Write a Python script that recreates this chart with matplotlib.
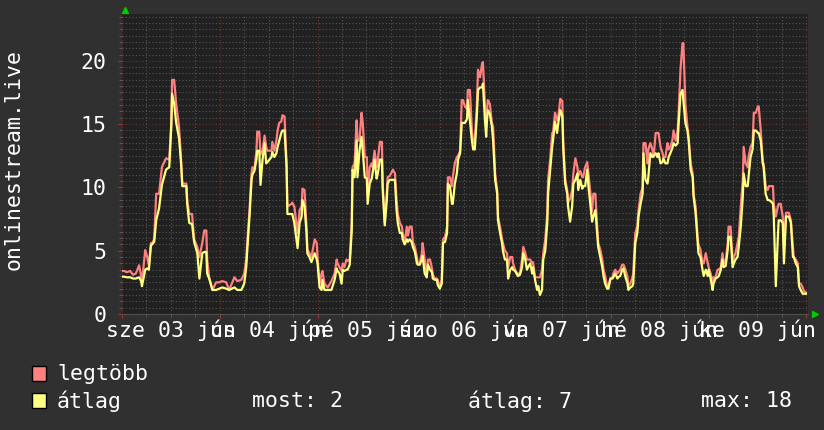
import numpy as np
import matplotlib
matplotlib.use("Agg")
import matplotlib.pyplot as plt
from matplotlib.patches import Rectangle
from matplotlib.lines import Line2D
from matplotlib.transforms import blended_transform_factory

# Idő (óra, jún 03 00:00-tól), legtöbb és átlag néző
hours = [
    0.0, 0.5, 1.2, 2.0, 2.7, 3.4, 4.2, 4.7, 4.9, 5.7,
    6.2, 6.6, 7.1, 7.4, 7.9, 8.4, 9.1, 9.8, 10.8, 11.6,
    12.1, 12.3, 12.8, 13.3, 14.0, 14.5, 14.8, 15.8, 16.0, 16.5,
    17.2, 17.7, 18.5, 19.0, 19.7, 20.2, 20.7, 20.9, 21.4, 22.2,
    23.1, 23.9, 24.6, 25.6, 26.3, 27.6, 28.3,
    29.3, 30.0, 30.5, 30.8, 31.3, 31.8, 32.0, 32.5, 33.0, 33.2,
    33.7, 34.0, 34.5, 35.0, 35.4, 35.7, 36.7, 36.9, 37.4, 37.9,
    38.2, 38.6, 39.1, 39.4, 39.9, 40.4, 40.6, 41.6, 41.8, 42.3,
    43.1, 43.6, 44.1, 44.3, 44.8, 45.3, 45.5, 46.0, 46.5, 47.3,
    47.8, 48.0, 48.5, 49.0, 49.2, 49.7, 50.5, 51.4, 52.2, 52.7,
    52.9, 53.4, 53.9, 54.2, 54.6, 55.1, 55.4, 55.9,
    56.4, 56.6, 57.1, 57.6, 57.8, 58.3, 58.8, 59.1, 59.6, 60.1,
    60.3, 60.8, 61.3, 61.5, 62.0, 62.5, 62.8, 63.3, 63.8, 64.0,
    64.5, 65.0, 65.2, 65.7, 66.2, 66.5, 67.0, 67.4, 67.7, 68.2,
    68.7, 68.9, 69.4, 69.9, 70.2, 70.6, 71.1, 71.4, 71.9, 72.4,
    72.6, 73.1, 73.6, 73.8, 74.3, 74.8, 75.1, 75.6, 76.1, 76.3,
    76.8, 77.3, 77.5, 78.0, 78.5, 78.8, 79.3, 79.8, 80.0, 80.5,
    81.0, 81.2, 81.7, 82.2, 82.5, 83.0, 83.4, 83.7,
    84.2, 84.7, 84.9, 85.4, 85.9, 86.2, 86.6, 87.1, 87.4, 87.9,
    88.4, 88.6, 89.1, 89.4, 89.6, 89.8, 90.3, 90.8, 91.1, 91.6,
    92.1, 92.3, 92.8, 93.3, 93.5, 94.0, 94.5, 94.8, 95.3, 95.8,
    96.0, 96.5, 97.0, 97.2, 97.7, 98.2, 98.5, 99.0, 99.4, 99.7,
    100.2, 100.7, 100.9, 101.4, 101.9, 102.2, 102.6, 103.1, 103.4, 103.9,
    104.4, 104.6, 105.1, 105.6, 105.8, 106.3, 106.8, 107.1, 107.6, 108.1,
    108.3, 108.8, 109.3, 109.5, 110.0, 110.5, 110.8, 111.3, 111.8, 112.0,
    112.5, 113.0, 113.2, 113.7, 114.2, 114.5, 115.0, 115.4, 115.7, 116.2,
    116.7, 116.9, 117.4, 117.9, 118.2, 118.6, 119.1, 119.4, 119.9, 120.4,
    120.6, 121.1, 121.6, 121.8, 122.3, 122.8, 123.1, 123.6, 124.1, 124.3,
    124.8, 125.3, 125.5, 126.0, 126.5, 126.8, 127.3, 127.8, 128.0, 128.5,
    129.0, 129.2, 129.7, 130.2, 130.5, 131.0, 131.4, 131.7, 132.2, 132.7,
    132.9, 133.4, 133.9, 134.2, 134.6, 135.1, 135.4, 135.9, 136.4, 136.6,
    137.1, 137.6, 137.8, 138.3, 138.8, 139.1, 139.6, 140.1, 140.3,
    140.8, 141.3, 141.5, 142.0, 142.5, 142.8, 143.3, 143.8, 144.0, 144.5,
    145.0, 145.2, 145.7, 146.2, 146.5, 147.0, 147.4, 147.7, 148.2, 148.7,
    148.9, 149.4, 149.9, 150.2, 150.6, 151.1, 151.4, 151.9, 152.4, 152.6,
    153.1, 153.6, 153.8, 154.3, 154.8, 155.1, 155.6, 156.1, 156.3, 156.8,
    157.3, 157.5, 158.0, 158.5, 158.8, 159.3, 159.8, 160.0, 160.5, 161.0,
    161.2, 161.7, 162.2, 162.5, 163.0, 163.4, 163.7, 164.2, 164.7, 164.9,
    165.4, 165.9, 166.2, 166.6, 167.1, 167.4, 167.9,
]

legtobb = [
    3.4, 3.4, 3.3, 3.4, 3.1, 3.2, 3.85, 3.0, 2.5, 5.05,
    4.5, 3.85, 5.6, 5.6, 5.9, 9.5, 9.5, 11.6, 12.3, 12.2,
    15.1, 18.5, 18.5, 16.6, 14.8, 12.2, 10.3, 10.3, 9.0, 7.9,
    7.9, 5.9, 5.3, 4.5, 5.6, 6.6, 6.6, 4.3, 2.9, 1.9,
    2.5, 2.5, 2.6, 2.5, 1.9, 2.9, 2.6,
    2.7, 3.2, 4.3, 5.9, 8.2, 11.1, 11.6, 11.4, 12.9, 14.4,
    14.4, 12.6, 12.9, 14.1, 13.2, 12.9, 12.9, 13.6, 12.9, 13.7,
    14.5, 15.1, 15.2, 15.7, 15.6, 11.9, 8.5, 8.7, 8.8, 8.5,
    6.4, 8.2, 8.5, 9.9, 9.8, 6.9, 5.1, 4.8, 4.5, 5.9,
    5.6, 4.5, 2.4, 3.2, 3.4, 2.4, 2.1, 2.6, 3.2, 4.3,
    4.0, 3.7, 3.4, 4.0, 3.7, 4.3, 4.2, 4.3,
    7.3, 11.6, 11.9, 15.3, 13.7, 13.7, 15.9, 15.1, 12.4, 12.4,
    9.3, 11.6, 11.9, 11.6, 12.9, 11.6, 12.2, 13.6, 13.6, 10.3,
    7.2, 9.5, 10.8, 10.9, 11.2, 11.4, 11.1, 9.0, 7.9, 7.2,
    6.9, 6.4, 5.6, 6.9, 6.2, 6.9, 6.9, 5.7, 5.3, 4.5,
    4.0, 4.0, 4.8, 5.6, 4.3, 2.9, 4.3, 4.3, 3.6, 3.1,
    2.8, 2.8, 2.7, 2.1, 2.7, 5.9, 6.1, 6.9, 10.8, 10.8,
    10.1, 10.8, 11.9, 12.4, 12.5, 12.9, 16.9, 16.9,
    16.4, 16.2, 17.7, 17.7, 14.5, 13.5, 13.7, 16.4, 19.3, 18.7,
    19.8, 19.9, 16.4, 15.1, 16.1, 16.9, 16.6, 15.1, 14.8, 11.1,
    9.8, 7.7, 6.9, 5.9, 5.6, 5.0, 4.8, 3.7, 4.5, 4.5,
    4.0, 3.5, 3.2, 3.2, 3.2, 4.3, 5.3, 4.8, 4.3, 4.3,
    4.3, 4.0, 4.1, 2.9, 2.9, 2.9, 2.9, 3.5, 4.8, 5.9,
    8.0, 10.6, 12.2, 14.3, 14.3, 15.9, 15.3, 15.6, 17.0, 16.8,
    13.7, 10.6, 9.8, 8.8, 9.1, 9.8, 11.1, 12.3, 11.6, 10.9,
    11.3, 10.8, 10.8, 11.6, 12.0, 11.1, 9.5, 8.1, 9.5, 9.5,
    6.6, 5.6, 5.1, 4.3, 3.5, 3.0, 2.2, 2.2, 2.8, 2.9,
    3.2, 3.5, 3.2, 3.3, 3.5, 3.9, 3.9, 3.5, 2.9, 2.2,
    2.4, 2.9, 3.2, 6.4, 6.9, 8.2, 9.5, 10.0, 13.5, 13.5,
    11.9, 13.0, 13.5, 13.0, 12.4, 14.3, 14.3, 14.3, 13.2, 12.7,
    12.4, 12.4, 13.5, 13.0, 13.2, 13.7, 14.5, 13.7, 14.5, 15.6,
    19.3, 21.4, 21.4, 16.6, 14.8, 14.0, 11.9, 11.1, 9.5,
    8.5, 6.1, 5.5, 5.1, 4.0, 4.0, 4.8, 4.0, 3.7, 3.2,
    2.4, 2.9, 2.9, 3.5, 3.5, 3.7, 4.8, 4.0, 4.2, 5.6,
    6.9, 6.9, 4.0, 4.5, 4.8, 5.6, 6.1, 8.5, 10.6, 13.2,
    11.9, 11.6, 12.4, 13.2, 13.5, 15.9, 15.9, 16.4, 16.4, 14.5,
    11.9, 11.9, 10.1, 9.8, 10.1, 10.1, 10.1, 8.7, 7.7, 8.5,
    8.7, 8.7, 7.7, 5.3, 8.0, 8.0, 8.0, 7.4, 5.3, 4.5,
    4.3, 4.0, 2.4, 2.4, 2.1, 1.8, 1.7,
]

atlag = [
    2.95, 2.95, 2.9, 2.9, 2.8, 2.8, 2.9, 2.6, 2.2, 3.5,
    3.6, 3.5, 5.4, 5.5, 5.7, 7.4, 8.35, 10.2, 11.4, 11.6,
    14.8, 17.4, 16.6, 15.1, 13.9, 11.9, 10.1, 10.1, 8.7, 7.2,
    7.1, 5.7, 4.8, 2.8, 4.8, 4.9, 4.9, 3.2, 2.8, 1.9,
    1.9, 2.0, 2.1, 2.0, 1.9, 2.1, 1.9,
    1.9, 2.4, 3.7, 5.3, 7.7, 10.6, 11.0, 11.3, 12.2, 12.9,
    12.9, 10.2, 12.2, 13.5, 11.9, 12.0, 12.4, 12.8, 12.4, 12.7,
    13.2, 13.7, 14.3, 14.5, 14.5, 11.6, 7.9, 7.9, 7.9, 7.2,
    5.2, 7.2, 7.7, 9.0, 8.5, 6.4, 4.8, 4.5, 4.1, 4.8,
    4.3, 4.0, 2.1, 1.9, 2.7, 1.9, 1.9, 1.9, 2.7, 3.6,
    3.4, 3.2, 2.4, 3.5, 3.4, 3.5, 3.5, 3.9,
    6.6, 11.4, 10.8, 13.7, 10.8, 12.9, 14.0, 12.9, 10.8, 10.7,
    8.7, 10.3, 10.7, 11.1, 12.2, 10.7, 11.1, 12.2, 12.2, 9.8,
    7.0, 9.0, 10.3, 10.6, 10.6, 10.6, 10.6, 8.2, 7.2, 6.4,
    6.4, 5.9, 5.5, 5.9, 5.7, 5.9, 5.7, 5.3, 4.9, 4.0,
    3.9, 3.9, 4.3, 4.6, 3.2, 2.9, 3.9, 3.5, 3.3, 2.8,
    2.7, 2.7, 2.3, 2.0, 2.4, 5.6, 5.7, 6.4, 10.3, 10.1,
    8.7, 8.7, 10.3, 11.1, 12.2, 12.7, 15.1, 15.1,
    15.1, 15.4, 16.9, 15.3, 13.7, 13.0, 13.0, 15.6, 17.7, 17.9,
    17.9, 18.2, 15.3, 14.0, 15.3, 16.1, 15.8, 14.8, 13.7, 10.6,
    9.5, 7.4, 6.4, 5.6, 5.0, 4.3, 4.3, 2.8, 3.5, 3.7,
    3.5, 3.4, 3.1, 3.0, 3.1, 3.7, 4.8, 4.3, 3.5, 3.7,
    4.0, 3.2, 3.7, 2.7, 1.9, 2.2, 1.5, 1.9, 4.3, 5.0,
    7.2, 9.5, 11.4, 13.2, 13.7, 15.2, 14.3, 15.1, 16.1, 15.6,
    13.2, 10.3, 9.5, 8.5, 7.3, 8.5, 10.3, 10.6, 11.1, 9.8,
    10.6, 9.9, 10.1, 10.1, 11.4, 10.1, 8.5, 7.3, 7.7, 8.2,
    6.1, 5.3, 4.5, 3.7, 3.0, 2.4, 2.0, 2.0, 2.8, 2.8,
    2.9, 3.2, 2.8, 2.9, 3.0, 3.5, 3.6, 2.9, 2.4, 1.9,
    2.1, 2.2, 2.4, 5.6, 6.4, 7.7, 8.7, 9.5, 12.7, 10.6,
    10.3, 10.8, 12.7, 12.4, 12.5, 12.7, 12.4, 12.7, 11.9, 12.0,
    12.3, 11.9, 11.9, 12.4, 12.7, 13.1, 13.5, 13.3, 13.5, 14.8,
    17.4, 17.7, 16.9, 15.1, 14.5, 13.7, 11.4, 10.8, 9.3,
    8.0, 5.8, 4.8, 4.5, 3.5, 3.0, 3.5, 3.0, 3.5, 2.8,
    1.9, 2.4, 2.8, 2.9, 3.0, 3.5, 4.3, 3.7, 3.8, 5.1,
    6.1, 6.1, 3.7, 4.0, 4.3, 4.5, 5.3, 6.9, 9.3, 11.1,
    10.1, 10.1, 10.8, 12.4, 13.0, 14.5, 14.5, 14.3, 14.3, 13.7,
    11.9, 11.6, 9.5, 9.0, 9.0, 8.9, 8.7, 7.7, 2.2, 6.1,
    7.4, 7.4, 7.2, 4.0, 7.7, 7.7, 7.7, 7.2, 4.5, 4.5,
    4.0, 3.7, 2.2, 1.9, 1.6, 1.6, 1.6,
]

day_labels = ["sze 03 jún", "cs 04 jún", "pé 05 jún", "szo 06 jún",
              "va 07 jún", "hé 08 jún", "ke 09 jún"]
y_ticks = [0, 5, 10, 15, 20]
stats = ["most: 2", "átlag: 7", "max: 18"]

# Színek (rrdtool sötét téma)
BG = "#303030"
CANVAS = "#212121"
RED = "#ff8080"
YELLOW = "#ffff80"
FONT = "DejaVu Sans Mono"
FS = 15.5

W, H = 824, 430
fig = plt.figure(figsize=(W / 100, H / 100), dpi=100, facecolor=BG)
ax = fig.add_axes([122 / W, 1 - 314 / H, (808 - 122) / W, 300 / H])
ax.set_facecolor(CANVAS)
ax.set_xlim(0, 168.4)
ax.set_ylim(0, 23.7)

# Rács
ax.set_xticks(range(0, 169, 24))
ax.set_xticks(range(6, 169, 6), minor=True)
ax.set_xticklabels([])
ax.set_yticks(y_ticks)
ax.set_yticks(np.arange(0, 23.7, 0.5), minor=True)
ax.set_yticklabels([str(t) for t in y_ticks], color="white", fontsize=FS, family=FONT)
ax.grid(which="minor", color="#555555", linestyle=(0, (1, 2)), linewidth=0.8)
ax.grid(which="major", color="#763030", linestyle=(0, (1, 2)), linewidth=0.8)
ax.set_axisbelow(True)
ax.tick_params(which="major", length=3, color="#aa3030", pad=8)
ax.tick_params(which="minor", length=2, color="#606060")
for s in ax.spines.values():
    s.set_visible(False)
ax.spines["bottom"].set_visible(True)
ax.spines["bottom"].set_color("#505050")

ax.plot(hours, legtobb, color=RED, linewidth=1.6, zorder=3)
ax.plot(hours, atlag, color=YELLOW, linewidth=1.6, zorder=4)

# Napcímkék (dél közepén, ahogy az rrdtool rakja)
trans = blended_transform_factory(ax.transData, ax.transAxes)
for i, lab in enumerate(day_labels):
    ax.text(24 * i + 12, -0.053, lab, transform=trans, ha="center", va="center",
            color="white", fontsize=FS, family=FONT, clip_on=False)

# Zöld nyilak a tengelyek végén
fig.add_artist(Line2D([125 / W], [1 - 10 / H], marker="^", markersize=5,
                      color="#00cc00", linestyle="none", transform=fig.transFigure))
fig.add_artist(Line2D([815 / W], [1 - 314 / H], marker=">", markersize=5,
                      color="#00cc00", linestyle="none", transform=fig.transFigure))

fig.text(14 / W, 1 - 160 / H, "onlinestream.live", rotation=90, ha="center", va="center",
         color="white", fontsize=FS, family=FONT)

# Jelmagyarázat
for row, (name, col) in enumerate([("legtöbb", RED), ("átlag", YELLOW)]):
    yc = 374 + 27 * row
    fig.add_artist(Rectangle((32 / W, 1 - (yc + 7) / H), 14 / W, 15 / H, facecolor=col,
                             edgecolor="black", linewidth=1, transform=fig.transFigure))
    fig.text(57 / W, 1 - yc / H, name, ha="left", va="center", color="white",
             fontsize=FS, family=FONT)
for xs, s in zip([252, 468, 701], stats):
    fig.text(xs / W, 1 - 401 / H, s, ha="left", va="center", color="white",
             fontsize=FS, family=FONT)

fig.savefig("out.png", dpi=100, facecolor=BG)
